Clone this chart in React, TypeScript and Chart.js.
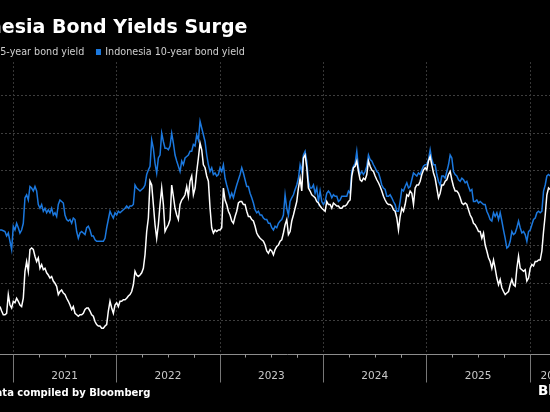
import { useEffect, useRef } from 'react';
import { Chart, registerables } from 'chart.js';

Chart.register(...registerables);

const TITLE = 'Indonesia Bond Yields Surge';
const SERIES_NAMES = ['Indonesia 5-year bond yield', 'Indonesia 10-year bond yield'];
const SERIES_COLORS = ['#ffffff', '#1b78de'];
const SOURCE = 'Source: Data compiled by Bloomberg';
const LOGO = 'Bloomberg';

// sampling: first observation date (fractional year) and observations per year
const START_YEAR = 2020.875;
const SAMPLES_PER_YEAR = 62;

const yield5y = [
  5.18,5.12,5.07,5.07,5.09,5.34,5.20,5.16,5.25,5.23,5.29,5.25,5.20,5.18,5.29,5.65,5.78,5.65,5.94,5.96,5.94,5.85,5.78,5.83,5.69,5.74,5.67,5.69,5.63,5.60,5.56,5.58,5.52,5.49,5.45,5.34,5.38,5.40,5.36,5.34,5.29,5.25,5.20,5.14,5.18,5.09,5.07,5.05,5.07,5.07,5.09,5.14,5.16,5.16,5.12,5.07,5.05,4.98,4.94,4.92,4.92,4.89,4.89,4.92,4.94,5.12,
  5.25,5.16,5.09,5.20,5.23,5.18,5.25,5.25,5.27,5.27,5.29,5.32,5.34,5.38,5.47,5.65,5.60,5.58,5.60,5.63,5.69,5.87,6.18,6.36,6.85,6.80,6.54,6.27,6.09,6.27,6.54,6.76,6.54,6.18,6.23,6.27,6.34,6.80,6.65,6.49,6.40,6.34,6.54,6.60,6.63,6.67,6.78,6.65,6.85,6.92,6.67,6.76,6.98,7.16,7.36,7.27,7.07,7.03,6.92,6.85,6.49,6.23,6.16,6.20,6.18,6.20,
  6.20,6.23,6.76,6.60,6.54,6.45,6.40,6.32,6.29,6.38,6.45,6.56,6.58,6.58,6.54,6.54,6.45,6.38,6.38,6.34,6.32,6.25,6.16,6.12,6.09,6.07,6.05,6.00,5.92,5.89,5.94,5.92,5.87,5.94,5.98,6.00,6.05,6.07,6.16,6.27,6.34,6.14,6.18,6.32,6.40,6.49,6.58,6.76,6.89,6.72,7.16,7.20,7.03,6.76,6.72,6.67,6.65,6.63,6.58,6.56,6.52,6.49,6.47,6.45,6.58,6.54,
  6.54,6.49,6.56,6.54,6.52,6.52,6.49,6.49,6.52,6.52,6.54,6.58,6.60,6.92,7.03,7.05,7.12,6.98,6.87,6.85,6.89,6.87,6.94,7.12,7.05,7.00,6.98,6.92,6.87,6.83,6.78,6.72,6.65,6.60,6.56,6.54,6.54,6.52,6.47,6.45,6.36,6.20,6.38,6.49,6.45,6.54,6.67,6.65,6.72,6.69,6.54,6.76,6.80,6.80,6.85,6.94,7.00,7.03,7.00,7.12,7.18,7.07,6.96,6.89,6.76,6.63,
  6.69,6.80,6.80,6.85,6.87,6.94,6.98,6.87,6.78,6.72,6.72,6.69,6.63,6.56,6.54,6.56,6.54,6.47,6.40,6.36,6.29,6.27,6.23,6.18,6.18,6.09,6.16,6.00,5.92,5.83,5.78,5.69,5.80,5.69,5.56,5.47,5.54,5.43,5.38,5.34,5.36,5.38,5.47,5.54,5.47,5.45,5.69,5.85,5.69,5.67,5.65,5.67,5.52,5.56,5.69,5.74,5.72,5.78,5.78,5.80,5.80,5.92,6.18,6.40,6.67,6.76,6.74,
];

const yield10y = [
  6.20,6.20,6.19,6.18,6.12,6.16,6.05,5.94,6.25,6.20,6.29,6.23,6.16,6.20,6.29,6.63,6.67,6.60,6.78,6.76,6.72,6.78,6.72,6.54,6.49,6.54,6.45,6.49,6.43,6.47,6.43,6.49,6.40,6.43,6.38,6.54,6.60,6.58,6.56,6.40,6.34,6.32,6.34,6.29,6.36,6.34,6.18,6.09,6.16,6.18,6.16,6.14,6.23,6.25,6.20,6.12,6.12,6.07,6.05,6.05,6.05,6.05,6.05,6.09,6.23,6.34,
  6.45,6.40,6.36,6.43,6.40,6.45,6.43,6.45,6.47,6.49,6.52,6.49,6.52,6.52,6.54,6.80,6.76,6.74,6.72,6.74,6.76,6.80,6.94,7.00,7.05,7.40,7.29,7.09,6.96,7.16,7.20,7.49,7.38,7.29,7.29,7.27,7.32,7.49,7.36,7.20,7.12,7.05,6.98,7.12,7.07,7.16,7.18,7.20,7.25,7.25,7.34,7.32,7.47,7.40,7.65,7.56,7.47,7.38,7.20,7.07,6.98,7.03,6.94,6.96,6.92,6.94,
  7.03,6.98,7.07,6.89,6.80,6.72,6.63,6.69,6.63,6.72,6.80,6.87,6.94,7.03,6.96,6.87,6.78,6.78,6.69,6.63,6.56,6.47,6.43,6.45,6.40,6.40,6.36,6.34,6.34,6.29,6.29,6.23,6.20,6.25,6.23,6.29,6.32,6.34,6.40,6.67,6.49,6.40,6.58,6.63,6.67,6.74,6.80,6.89,7.07,6.98,7.20,7.25,7.12,6.85,6.76,6.76,6.80,6.69,6.76,6.58,6.72,6.58,6.54,6.58,6.69,6.72,
  6.69,6.63,6.67,6.65,6.65,6.58,6.60,6.65,6.65,6.65,6.65,6.72,6.69,6.98,7.05,7.09,7.25,7.03,6.94,6.98,6.94,6.98,7.05,7.20,7.14,7.12,7.07,7.03,6.98,6.96,6.89,6.80,6.76,6.74,6.65,6.65,6.67,6.63,6.58,6.54,6.45,6.45,6.58,6.74,6.72,6.78,6.83,6.76,6.78,6.87,6.96,6.94,6.92,6.96,6.94,7.00,7.05,7.07,7.07,7.14,7.27,7.14,7.07,7.07,6.94,6.85,
  6.80,6.92,6.92,6.89,6.98,7.07,7.20,7.16,6.98,6.94,6.92,6.87,6.85,6.89,6.87,6.83,6.85,6.78,6.72,6.74,6.58,6.58,6.60,6.56,6.58,6.56,6.54,6.54,6.45,6.40,6.34,6.32,6.43,6.38,6.43,6.34,6.43,6.32,6.20,6.09,5.96,5.98,6.05,6.18,6.14,6.16,6.23,6.32,6.23,6.16,6.18,6.14,6.05,6.18,6.20,6.27,6.34,6.36,6.43,6.45,6.43,6.45,6.72,6.80,6.92,6.94,6.92,
];

const YEAR_LABELS = ['2021', '2022', '2023', '2024', '2025', '2026'];
const Y_TICKS = [5.0, 5.5, 6.0, 6.5, 7.0, 7.5, 8.0];
const X_MIN = 2020.8464;
const X_MAX = 2026.4664;
const Y_MIN = 4.547;
const Y_MAX = 8.44;

// layout
const CANVAS_W = 689;
const CANVAS_H = 412;
const CANVAS_LEFT = -70;
const MARGIN = 11;
const FONT = '"DejaVu Sans", sans-serif';

const toPoints = (vals: number[]) =>
  vals.map((v, i) => ({ x: START_YEAR + i / SAMPLES_PER_YEAR, y: v }));

const decorPlugin = {
  id: 'decor',
  beforeDatasetsDraw(chart: any) {
    const { ctx, chartArea: ca, scales } = chart;
    const x = scales.x;
    const y = scales.y;
    ctx.save();
    ctx.lineWidth = 1;
    ctx.setLineDash([2, 2]);
    ctx.strokeStyle = '#3e3e3e';
    Y_TICKS.forEach((v) => {
      const py = Math.round(y.getPixelForValue(v)) + 0.5;
      ctx.beginPath();
      ctx.moveTo(ca.left, py);
      ctx.lineTo(ca.right, py);
      ctx.stroke();
    });
    ctx.strokeStyle = '#363636';
    YEAR_LABELS.forEach((lab) => {
      const px = Math.round(x.getPixelForValue(Number(lab))) + 0.5;
      ctx.beginPath();
      ctx.moveTo(px, ca.top);
      ctx.lineTo(px, ca.bottom);
      ctx.stroke();
    });
    ctx.restore();
  },
  afterDraw(chart: any) {
    const { ctx, chartArea: ca, scales } = chart;
    const x = scales.x;
    const y = scales.y;
    ctx.save();
    ctx.setLineDash([]);
    ctx.lineWidth = 1;
    const axisY = Math.round(ca.bottom) + 0.5;
    // axis line
    ctx.strokeStyle = '#8c8c8c';
    ctx.beginPath();
    ctx.moveTo(ca.left, axisY);
    ctx.lineTo(ca.right, axisY);
    ctx.stroke();
    // year ticks and quarter ticks
    YEAR_LABELS.forEach((lab) => {
      const yr = Number(lab);
      const px = Math.round(x.getPixelForValue(yr)) + 0.5;
      ctx.strokeStyle = '#777777';
      ctx.beginPath();
      ctx.moveTo(px, axisY);
      ctx.lineTo(px, axisY + 28);
      ctx.stroke();
      [0.25, 0.5, 0.75, -0.25].forEach((q) => {
        const t = yr + q;
        if (t < X_MIN || t > X_MAX) return;
        const qx = Math.round(x.getPixelForValue(t)) + 0.5;
        ctx.strokeStyle = '#9a9a9a';
        ctx.beginPath();
        ctx.moveTo(qx, axisY);
        ctx.lineTo(qx, axisY + 3);
        ctx.stroke();
      });
      // label centered in visible part of the year
      const a = Math.max(yr, X_MIN);
      const b = Math.min(yr + 1, X_MAX);
      const cx = (x.getPixelForValue(a) + x.getPixelForValue(b)) / 2;
      ctx.fillStyle = '#c8c8c8';
      ctx.font = `10.5px ${FONT}`;
      ctx.textAlign = 'center';
      ctx.textBaseline = 'middle';
      ctx.fillText(lab, cx, 376);
    });
    // y tick labels (right side)
    ctx.fillStyle = '#c8c8c8';
    ctx.font = `10.5px ${FONT}`;
    ctx.textAlign = 'left';
    ctx.textBaseline = 'middle';
    Y_TICKS.forEach((v) => {
      ctx.fillText(v.toFixed(1) + '%', ca.right + 6, y.getPixelForValue(v));
    });
    // title
    ctx.fillStyle = '#ffffff';
    ctx.font = `bold 19px ${FONT}`;
    ctx.textAlign = 'left';
    ctx.textBaseline = 'alphabetic';
    ctx.fillText(TITLE, MARGIN, 33);
    // legend
    ctx.font = `9.6px ${FONT}`;
    ctx.textBaseline = 'middle';
    let lx = MARGIN + 0.5;
    SERIES_NAMES.forEach((name, i) => {
      ctx.fillStyle = SERIES_COLORS[i];
      ctx.fillRect(lx, 49, 5, 6);
      ctx.fillStyle = '#cfcfcf';
      ctx.fillText(name, lx + 9.3, 52.5);
      lx = lx + 9.3 + ctx.measureText(name).width + 11.7;
    });
    // source
    ctx.fillStyle = '#ffffff';
    ctx.font = `bold 10px ${FONT}`;
    ctx.textBaseline = 'alphabetic';
    ctx.fillText(SOURCE, MARGIN, 395.5);
    // logo
    ctx.font = `bold 13.5px ${FONT}`;
    ctx.fillText(LOGO, 608, 395);
    ctx.restore();
  },
};

export default function App() {
  const ref = useRef<HTMLCanvasElement | null>(null);

  useEffect(() => {
    const canvas = ref.current;
    if (!canvas) return;
    const chart = new Chart(canvas, {
      type: 'line',
      data: {
        datasets: [
          {
            label: SERIES_NAMES[0],
            data: toPoints(yield5y),
            borderColor: SERIES_COLORS[0],
            borderWidth: 1.5,
            pointRadius: 0,
            tension: 0,
            fill: false,
          },
          {
            label: SERIES_NAMES[1],
            data: toPoints(yield10y),
            borderColor: SERIES_COLORS[1],
            borderWidth: 1.5,
            pointRadius: 0,
            tension: 0,
            fill: false,
          },
        ],
      },
      options: {
        animation: false,
        responsive: false,
        devicePixelRatio: 1,
        layout: { padding: { left: 67, right: CANVAS_W - 648, top: 62, bottom: CANVAS_H - 354 } },
        scales: {
          x: { type: 'linear', min: X_MIN, max: X_MAX, display: false },
          y: { type: 'linear', min: Y_MIN, max: Y_MAX, display: false },
        },
        plugins: {
          legend: { display: false },
          tooltip: { enabled: false },
          title: { display: false },
        },
      },
      plugins: [decorPlugin],
    } as any);
    return () => chart.destroy();
  }, []);

  return (
    <div
      style={{
        position: 'fixed',
        left: 0,
        top: 0,
        width: 550,
        height: 412,
        overflow: 'hidden',
        background: '#000',
      }}
    >
      <canvas
        ref={ref}
        width={CANVAS_W}
        height={CANVAS_H}
        style={{ position: 'absolute', left: CANVAS_LEFT, top: 0, width: CANVAS_W, height: CANVAS_H, background: '#000' }}
      />
    </div>
  );
}
